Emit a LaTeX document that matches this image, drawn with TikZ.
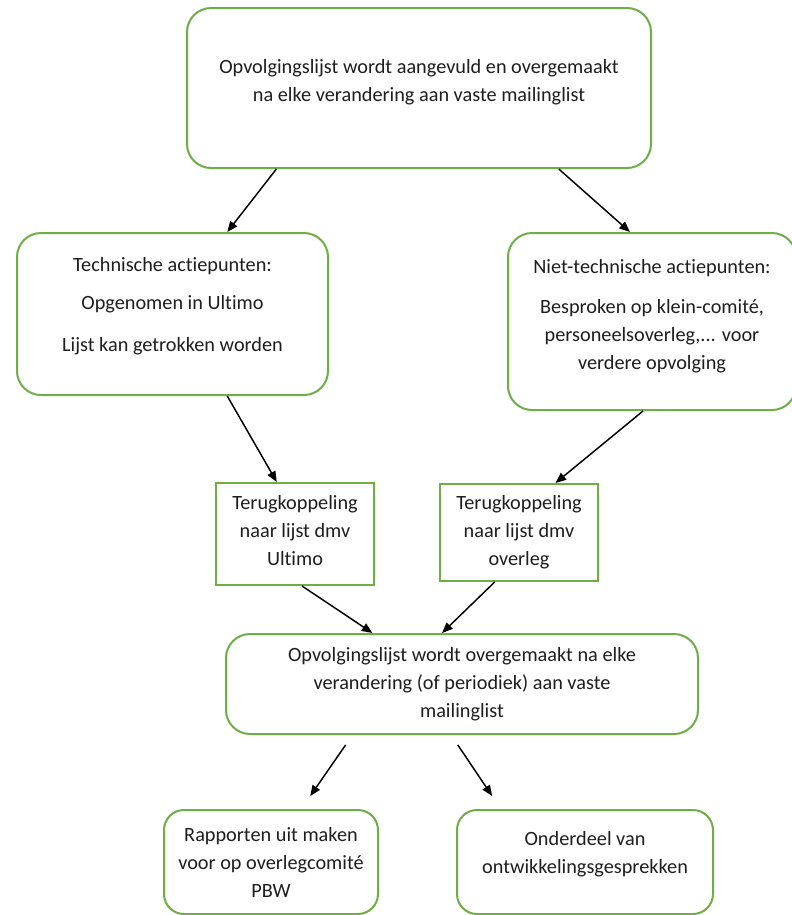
\documentclass[tikz,border=0pt]{standalone}
\usepackage{fontspec}
\setmainfont{Carlito}[Ligatures=NoCommon]
\usetikzlibrary{calc,arrows.meta}

\definecolor{boxgreen}{RGB}{112,173,71}
\definecolor{textgray}{RGB}{30,30,30}

\begin{document}
\begin{tikzpicture}[x=0.75pt,y=-0.75pt]

	% styles
	\tikzstyle{box}=[draw=boxgreen,line width=1.5pt,fill=white,text=textgray,align=center,inner sep=0pt,font=\fontsize{15.2}{21}\selectfont];
	\tikzstyle{roundbox}=[box,rounded corners=18pt];
	\tikzstyle{flow}=[line width=1.1pt,-{Triangle[length=8pt,width=6.5pt]}];

	% page size (right edge of one box runs off the page)
	\useasboundingbox (0,0) rectangle (792,915);
	\clip (0,0) rectangle (792,915);

	% top box
	\node[roundbox,minimum width=348pt,minimum height=120pt,text depth=11pt] (start) at (419,88)
		{Opvolgingslijst wordt aangevuld en overgemaakt\\na elke verandering aan vaste mailinglist};

	% the two kinds of actiepunten
	\node[roundbox,minimum width=233.25pt,minimum height=121.5pt,text depth=15pt] (tech) at (172.5,314)
		{Technische actiepunten:\\[8pt]Opgenomen in Ultimo\\[10pt]Lijst kan getrokken worden};
	\node[roundbox,minimum width=216pt,minimum height=132.75pt,text depth=11pt] (niet) at (652,321.5)
		{Niet-technische actiepunten:\\[9pt]Besproken op klein-comité,\\personeelsoverleg,... voor\\verdere opvolging};

	% terugkoppeling
	\node[box,minimum width=118.5pt,minimum height=76.5pt,text depth=6pt] (terugA) at (295,534)
		{Terugkoppeling\\naar lijst dmv\\Ultimo};
	\node[box,minimum width=118.5pt,minimum height=72.75pt] (terugB) at (519,532.5)
		{Terugkoppeling\\naar lijst dmv\\overleg};

	% middle box
	\node[roundbox,minimum width=354pt,minimum height=75pt] (lijst) at (462,684)
		{Opvolgingslijst wordt overgemaakt na elke\\verandering (of periodiek) aan vaste\\mailinglist};

	% bottom boxes
	\node[roundbox,rounded corners=15pt,minimum width=160.5pt,minimum height=78pt] (rapport) at (271,862)
		{Rapporten uit maken\\voor op overlegcomité\\PBW};
	\node[roundbox,rounded corners=15pt,minimum width=192pt,minimum height=78pt,text depth=15pt] (gesprek) at (585,862)
		{Onderdeel van\\ontwikkelingsgesprekken};

	% arrows
	\draw[flow] ($(start.south west)!.194!(start.south east)$) -- ($(tech.north west)!.675!(tech.north east)$);
	\draw[flow] ($(start.south west)!.80!(start.south east)$) -- ($(niet.north west)!.424!(niet.north east)$);
	\draw[flow] ($(tech.south west)!.675!(tech.south east)$) -- ($(terugA.north west)!.386!(terugA.north east)$);
	\draw[flow] ($(niet.south west)!.469!(niet.south east)$) -- ($(terugB.north west)!.728!(terugB.north east)$);
	\draw[flow] ($(terugA.south west)!.544!(terugA.south east)$) -- ($(lijst.north west)!.311!(lijst.north east)$);
	\draw[flow] ($(terugB.south west)!.348!(terugB.south east)$) -- ($(lijst.north west)!.458!(lijst.north east)$);
	\draw[flow,shorten <=9pt,shorten >=11.8pt] ($(lijst.south west)!.269!(lijst.south east)$) -- ($(rapport.north west)!.640!(rapport.north east)$);
	\draw[flow,shorten <=9pt,shorten >=11.8pt] ($(lijst.south west)!.477!(lijst.south east)$) -- ($(gesprek.north west)!.174!(gesprek.north east)$);

\end{tikzpicture}
\end{document}
